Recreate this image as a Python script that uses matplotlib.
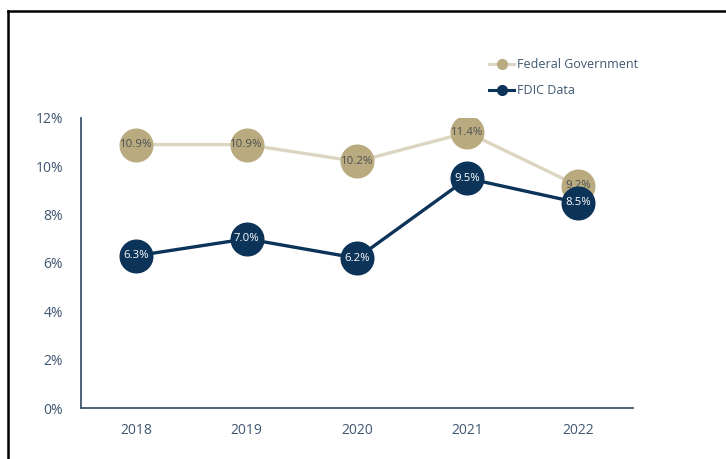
import matplotlib
matplotlib.use("Agg")
import matplotlib.pyplot as plt
from matplotlib.lines import Line2D

years = ["2018", "2019", "2020", "2021", "2022"]
federal = [10.9, 10.9, 10.2, 11.4, 9.2]
fdic = [6.3, 7.0, 6.2, 9.5, 8.5]
yticks = [0, 2, 4, 6, 8, 10, 12]
series_names = ["Federal Government", "FDIC Data"]

plt.rcParams['font.family'] = ['Open Sans', 'DejaVu Sans']

W, H = 726, 459
fig = plt.figure(figsize=(W / 100, H / 100), dpi=100)
fig.patch.set_facecolor("white")

# screenshot frame
fig.add_artist(Line2D([8 / W, 8 / W], [0, 1 - 11 / H], color="black", lw=1.8, transform=fig.transFigure))
fig.add_artist(Line2D([8 / W, 1], [1 - 11 / H, 1 - 11 / H], color="black", lw=1.8, transform=fig.transFigure))

ax = fig.add_axes([81 / W, 1 - 408 / H, (633 - 81) / W, (408 - 118) / H])
x = list(range(len(years)))

gold = "#b9ab7f"
gold_line = "#dcd5c1"
navy = "#0c3358"
axis_col = "#3f5670"

ax.plot(x, federal, color=gold_line, lw=2.4, zorder=2)
ax.plot(x, federal, linestyle="none", marker="o", ms=23.5, color=gold, mec=gold, zorder=3)
ax.plot(x, fdic, color=navy, lw=2.4, zorder=4)
ax.plot(x, fdic, linestyle="none", marker="o", ms=23.5, color=navy, mec=navy, zorder=5)

for xi, v in zip(x, federal):
    ax.text(xi, v, f"{v:.1f}%", ha="center", va="center", fontsize=8.2, color="#4a4f52", zorder=3.5)
for xi, v in zip(x, fdic):
    ax.text(xi, v, f"{v:.1f}%", ha="center", va="center", fontsize=8.2, color="white", zorder=6)

ax.set_xlim(-0.5, 4.5)
ax.set_ylim(0, 12)
ax.set_xticks(x)
ax.set_xticklabels(years)
ax.set_yticks(yticks)
ax.set_yticklabels([f"{t}%" for t in yticks])
ax.tick_params(length=0, labelsize=10, colors=axis_col)
ax.tick_params(axis="x", pad=11)
ax.tick_params(axis="y", pad=13)
for s in ["top", "right"]:
    ax.spines[s].set_visible(False)
for s in ["left", "bottom"]:
    ax.spines[s].set_color(axis_col)
    ax.spines[s].set_linewidth(1.3)

handles = [
    Line2D([0], [0], color=gold_line, lw=2.2, marker="o", ms=7, mfc=gold, mec=gold),
    Line2D([0], [0], color=navy, lw=2.2, marker="o", ms=7, mfc=navy, mec=navy),
]
leg = fig.legend(handles, series_names, loc="upper left", bbox_to_anchor=(478 / W, 1 - 47 / H),
                 frameon=False, fontsize=9, handlelength=2.0, handletextpad=0.2,
                 labelspacing=1.05, labelcolor="#3f5670")

fig.savefig("out.png", dpi=100, facecolor="white")
